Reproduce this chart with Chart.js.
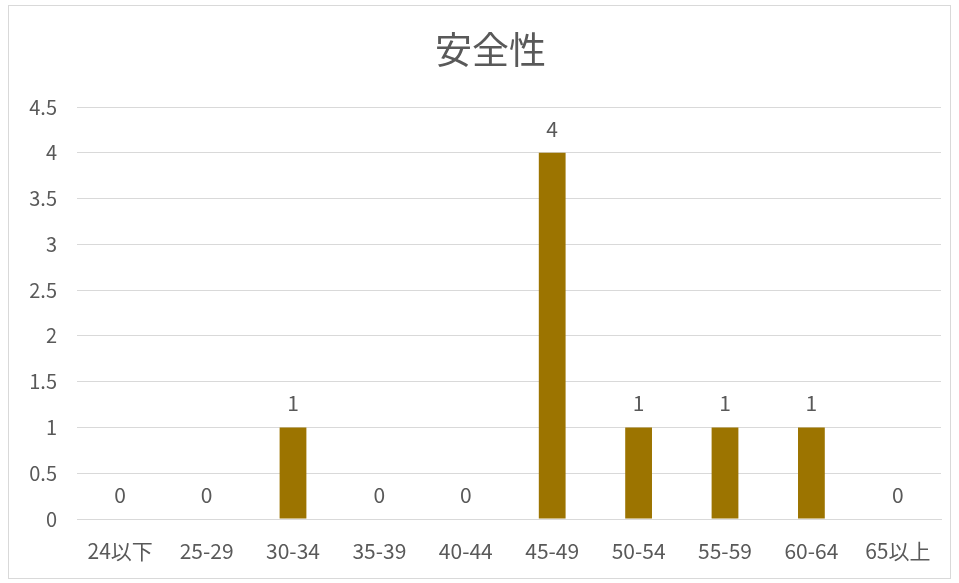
<!DOCTYPE html>
<html>
<head>
<meta charset="utf-8">
<script src="https://cdn.jsdelivr.net/npm/chart.js@4.4.1/dist/chart.umd.min.js"></script>
<style>
  html, body { margin: 0; padding: 0; background: #ffffff; }
  #frame {
    position: absolute;
    left: 8px; top: 5px;
    width: 941px; height: 572px;
    border: 1px solid #d9d9d9;
    background: #ffffff;
  }
  #chart { display: block; }
</style>
</head>
<body>
<div id="frame"><canvas id="chart" width="941" height="572"></canvas></div>
<script>
// age groups and counts
const ageGroups = ["24以下", "25-29", "30-34", "35-39", "40-44", "45-49", "50-54", "55-59", "60-64", "65以上"];
const counts = [0, 0, 1, 0, 0, 4, 1, 1, 1, 0];
const chartTitle = "安全性";
const yMax = 4.5;
const yStep = 0.5;

const fontFamily = "'Noto Sans CJK JP', 'Noto Sans', sans-serif";
const textColor = "#595959";

// title, drawn a little right of the canvas centre
const titleText = {
    id: "titleText",
    afterDraw(chart) {
        const ctx = chart.ctx;
        ctx.save();
        ctx.fillStyle = textColor;
        ctx.font = "37px " + fontFamily;
        ctx.textAlign = "center";
        ctx.textBaseline = "middle";
        ctx.fillText(chartTitle, chart.width / 2 + 11, 44);
        ctx.restore();
    }
};

// value labels drawn above each bar
const valueLabels = {
    id: "valueLabels",
    afterDatasetsDraw(chart) {
        const ctx = chart.ctx;
        const meta = chart.getDatasetMeta(0);
        ctx.save();
        ctx.fillStyle = textColor;
        ctx.font = "21px " + fontFamily;
        ctx.textAlign = "center";
        ctx.textBaseline = "alphabetic";
        meta.data.forEach(function(bar, i) {
            ctx.fillText(String(counts[i]), bar.x, bar.y - 16);
        });
        ctx.restore();
    }
};

const ctx = document.getElementById("chart").getContext("2d");
new Chart(ctx, {
    type: "bar",
    data: {
        labels: ageGroups,
        datasets: [{
            data: counts,
            backgroundColor: "#9c7400",
            barPercentage: 0.62,
            categoryPercentage: 0.5
        }]
    },
    options: {
        responsive: false,
        animation: false,
        layout: { padding: { left: 0, right: 9, top: 101, bottom: 0 } },
        plugins: {
            legend: { display: false },
            tooltip: { enabled: false },
            title: { display: false }
        },
        scales: {
            x: {
                grid: { display: false, drawTicks: false },
                border: { color: "#d9d9d9" },
                ticks: {
                    color: textColor,
                    font: { family: fontFamily, size: 21 },
                    padding: 19,
                    maxRotation: 0,
                    autoSkip: false
                },
                afterFit(scale) { scale.height = 59; }
            },
            y: {
                min: 0,
                max: yMax,
                grid: { color: "#d9d9d9", drawTicks: false },
                border: { display: false },
                ticks: {
                    stepSize: yStep,
                    color: textColor,
                    font: { family: fontFamily, size: 20 },
                    padding: 20,
                    callback: function(v) { return String(v); }
                },
                afterFit(scale) { scale.width = 68; }
            }
        }
    },
    plugins: [valueLabels, titleText]
});
</script>
</body>
</html>
